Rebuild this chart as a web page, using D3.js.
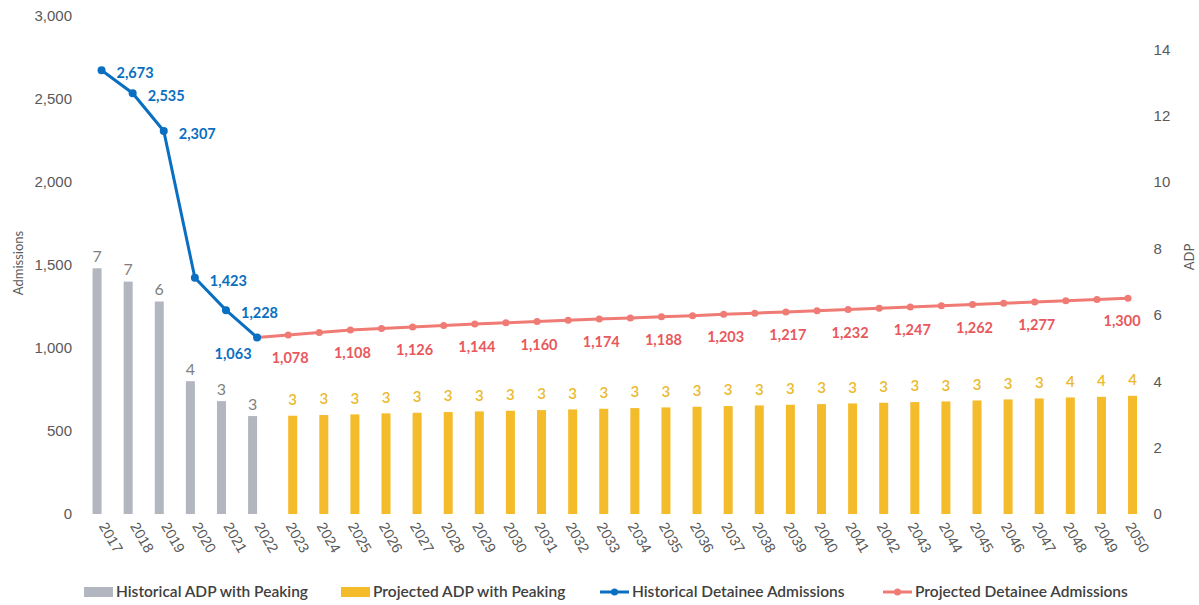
<!DOCTYPE html>
<html>
<head>
<meta charset="utf-8">
<script src="https://cdn.jsdelivr.net/npm/d3@7"></script>
<style>
  body { margin: 0; background: #fff; }
  svg { font-family: Lato, "Open Sans", sans-serif; }
  .axis text { fill: #595959; font-size: 15px; }
  .axis path, .axis line { display: none; }
  .axislabel { fill: #595959; font-size: 13px; }
  .legend text { fill: #404040; font-size: 15.5px; font-weight: 600; }
</style>
</head>
<body>
<div id="content"></div>
<script>
const width = 1199;
const height = 605;

// years on the x axis
const years = d3.range(2017, 2051).map(String);

// ADP bars (right axis)
const histYears = ["2017", "2018", "2019", "2020", "2021", "2022"];
const histADP = [7.4, 7.0, 6.4, 4.0, 3.4, 2.95];

const projYears = years.slice(6);
const projADP = [2.96, 2.98, 3.0, 3.03, 3.05, 3.07, 3.09, 3.11, 3.13, 3.15, 3.17, 3.19, 3.21, 3.23,
                 3.25, 3.27, 3.29, 3.31, 3.33, 3.35, 3.37, 3.39, 3.42, 3.45, 3.48, 3.51, 3.53, 3.56];

// admissions lines (left axis)
const histAdm = [2673, 2535, 2307, 1423, 1228, 1063];
const projLineYears = years.slice(5);
const projAdm = [1063, 1078, 1093, 1108, 1117, 1126, 1135, 1144, 1152, 1160, 1167, 1174, 1181, 1188, 1195,
                 1203, 1210, 1217, 1224, 1232, 1240, 1247, 1254, 1262, 1270, 1277, 1285, 1292, 1300];
// projected years that carry a label
const projLabelYears = ["2023", "2025", "2027", "2029", "2031", "2033", "2035", "2037", "2039",
                        "2041", "2043", "2045", "2047", "2050"];

const leftTicks = [0, 500, 1000, 1500, 2000, 2500, 3000];
const rightTicks = [0, 2, 4, 6, 8, 10, 12, 14];

const legendItems = [
  {name: "Historical ADP with Peaking", type: "bar", color: "#b1b6bf"},
  {name: "Projected ADP with Peaking", type: "bar", color: "#f4bb2b"},
  {name: "Historical Detainee Admissions", type: "line", color: "#0a6fc0"},
  {name: "Projected Detainee Admissions", type: "line", color: "#f07a74"}
];

const blue = "#0a6fc0", red = "#f07a74", redText = "#e8585c";
const gray = "#b1b6bf", gold = "#f4bb2b", goldText = "#ebb92e";

const margin = {top: 16, right: 1143.6, bottom: 514, left: 86};

var svg = d3.select("#content").append("svg")
    .attr("width", width)
    .attr("height", height);

var x = d3.scaleBand().domain(years).range([margin.left, margin.right]).padding(0);
var yL = d3.scaleLinear().domain([0, 3000]).range([margin.bottom, margin.top]);
var yR = d3.scaleLinear().domain([0, 15]).range([margin.bottom, margin.top]);
const cx = d => x(d) + x.bandwidth() / 2;
const barW = 9;
const fmt = d3.format(",");

// axes
svg.append("g").attr("class", "axis")
    .attr("transform", `translate(${margin.left},0)`)
    .call(d3.axisLeft(yL).tickValues(leftTicks).tickSize(0).tickPadding(14).tickFormat(fmt));

svg.append("g").attr("class", "axis")
    .attr("transform", `translate(${margin.right},0)`)
    .call(d3.axisRight(yR).tickValues(rightTicks).tickSize(0).tickPadding(10));

var xa = svg.append("g").attr("class", "axis")
    .attr("transform", `translate(0,${margin.bottom})`)
    .call(d3.axisBottom(x).tickSize(0).tickPadding(0));
xa.selectAll("text")
    .attr("y", 0).attr("dy", 0)
    .attr("transform", "translate(-3,12) rotate(60)")
    .style("text-anchor", "start")
    .style("font-size", "14.5px");

svg.append("text").attr("class", "axislabel").text("Admissions")
    .attr("text-anchor", "middle")
    .attr("transform", `translate(23, 263) rotate(-90)`);
svg.append("text").attr("class", "axislabel").text("ADP")
    .attr("text-anchor", "middle")
    .attr("transform", `translate(1194, 257) rotate(-90)`);

// bars
histYears.forEach((yr, i) => {
  svg.append("rect")
    .attr("x", cx(yr) - 4.5 - barW / 2).attr("width", barW)
    .attr("y", yR(histADP[i])).attr("height", yR(0) - yR(histADP[i]))
    .attr("fill", gray);
  svg.append("text").text(Math.round(histADP[i]))
    .attr("x", cx(yr) - 4.5).attr("y", yR(histADP[i]) - 12)
    .attr("text-anchor", "middle").attr("dy", "0.35em")
    .attr("fill", "#7f7f7f").style("font-size", "16px");
});

projYears.forEach((yr, i) => {
  svg.append("rect")
    .attr("x", cx(yr) + 4.5 - barW / 2).attr("width", barW)
    .attr("y", yR(projADP[i])).attr("height", yR(0) - yR(projADP[i]))
    .attr("fill", gold);
  svg.append("text").text(Math.round(projADP[i]))
    .attr("x", cx(yr) + 4.5).attr("y", yR(projADP[i]) - 16)
    .attr("text-anchor", "middle").attr("dy", "0.35em")
    .attr("fill", goldText).style("font-size", "15px").style("font-weight", 600);
});

// lines
var line = d3.line().x(d => cx(d[0])).y(d => yL(d[1]));

var projPts = projLineYears.map((yr, i) => [yr, projAdm[i]]);
svg.append("path").datum(projPts)
    .attr("d", line).attr("fill", "none")
    .attr("stroke", red).attr("stroke-width", 3);
projPts.slice(1).forEach(p => {
  svg.append("circle").attr("cx", cx(p[0])).attr("cy", yL(p[1])).attr("r", 3.5).attr("fill", red);
});

var histPts = histYears.map((yr, i) => [yr, histAdm[i]]);
svg.append("path").datum(histPts)
    .attr("d", line).attr("fill", "none")
    .attr("stroke", blue).attr("stroke-width", 3);
histPts.forEach(p => {
  svg.append("circle").attr("cx", cx(p[0])).attr("cy", yL(p[1])).attr("r", 4).attr("fill", blue);
});

// line labels
histPts.forEach((p, i) => {
  var last = i == histPts.length - 1;
  svg.append("text").text(fmt(p[1]))
    .attr("x", last ? cx(p[0]) - 24 : cx(p[0]) + 15)
    .attr("y", last ? yL(p[1]) + 16 : yL(p[1]) + 3)
    .attr("dy", "0.35em")
    .attr("text-anchor", last ? "middle" : "start")
    .attr("fill", blue).style("font-size", "14.5px").style("font-weight", 700);
});

projPts.filter(p => projLabelYears.includes(p[0])).forEach(p => {
  svg.append("text").text(fmt(p[1]))
    .attr("x", p[0] == "2050" ? cx(p[0]) - 6 : cx(p[0]) + 2)
    .attr("y", yL(p[1]) + 23)
    .attr("dy", "0.35em")
    .attr("text-anchor", "middle")
    .attr("fill", redText).style("font-size", "14.5px").style("font-weight", 700);
});

// legend
const legendX = [84, 341, 600, 883];
var legend = svg.append("g").attr("class", "legend");
legendItems.forEach((item, i) => {
  var g = legend.append("g").attr("transform", `translate(${legendX[i]}, 592)`);
  if (item.type == "bar") {
    g.append("rect").attr("x", 0).attr("y", -5).attr("width", 29).attr("height", 10).attr("fill", item.color);
  } else {
    g.append("line").attr("x1", 0).attr("x2", 29).attr("y1", 0).attr("y2", 0)
      .attr("stroke", item.color).attr("stroke-width", 3);
    g.append("circle").attr("cx", 14.5).attr("cy", 0).attr("r", 3.5).attr("fill", item.color);
  }
  g.append("text").text(item.name).attr("x", 32).attr("dy", "0.35em");
});
</script>
</body>
</html>
